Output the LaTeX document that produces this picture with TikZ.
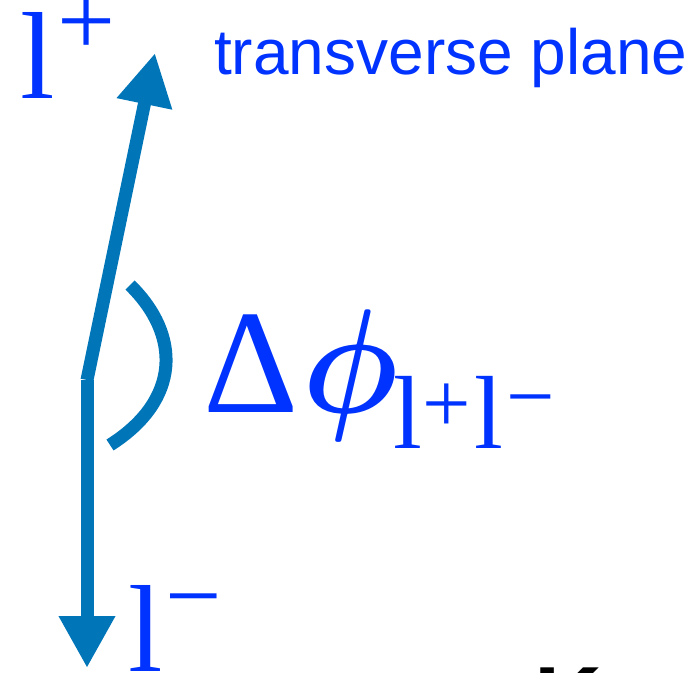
\RequirePackage{fix-cm}
\documentclass[tikz,border=0pt]{standalone}
\usepackage{fontspec}
\setmainfont{Liberation Serif}
\newfontfamily\sansfam{Liberation Sans}
\usetikzlibrary{arrows.meta}
\definecolor{arrowblue}{RGB}{0,118,185}
\definecolor{textblue}{RGB}{0,51,255}
\newcommand{\fsz}[1]{\fontsize{#1}{#1}\selectfont}
\tikzset{
  lepton/.style={draw=arrowblue, line width=13pt, -{Triangle[length=52pt,width=53pt]}},
  lbl/.style={text=textblue, inner sep=0pt, anchor=base west},
}

\begin{document}
\begin{tikzpicture}[x=1pt, y=-1pt]
  \useasboundingbox (0,0) rectangle (688,672);
  \clip (0,0) rectangle (688,672);
  \coordinate (O) at (87,380);
  \coordinate (UT) at (155,53);
  \coordinate (DT) at (87,668);
  \draw[lepton] (O) -- (UT);
  \draw[lepton] (O) -- (DT);
  % opening angle
  \draw[arrowblue, line width=13pt] (130,285) .. controls (181,335) and (181,400) .. (110,445);
  \node[lbl, font=\fsz{124}] (lp) at (20,98) {l};
  \node[lbl, font=\fsz{103}] (lpsign) at (57,55) {+};
  \node[lbl, font=\fsz{124}] (lm) at (128,671) {l};
  \node[lbl, font=\fsz{100}] (lmsign) at (165,629) {−};
  \node[lbl, font=\fsz{148}] (dphi) at (203,412) {Δ\hspace{4pt}\scalebox{0.91}[1]{\boldmath$\phi$}};
  \node[lbl, font=\fsz{104}] (dphisub) at (393,448)
    {l{\fsz{86}\raisebox{16pt}{+}}\hspace{4pt}l\hspace{3pt}{\fsz{86}\raisebox{23pt}{−}}};
  \node[lbl, font=\sansfam\fsz{64}] (tp) at (214,74) {transverse plane};
  \node[inner sep=0pt, anchor=base west, font=\sansfam\bfseries\fsz{94}] (kfrag) at (534,732) {K};
\end{tikzpicture}
\end{document}
